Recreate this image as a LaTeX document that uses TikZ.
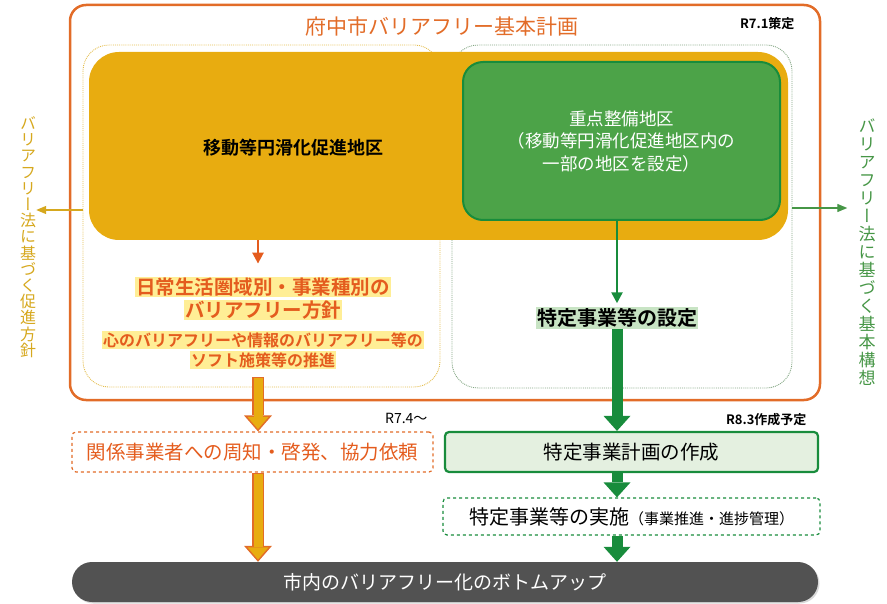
\documentclass[tikz,border=0pt]{standalone}
\usepackage{fontspec}
\setmainfont{Noto Sans CJK JP}[BoldFont={Noto Sans CJK JP Bold}]
\newfontfamily\tate{Noto Sans CJK JP}[Vertical=RotatedGlyphs]
\usepackage{tikz}
\usetikzlibrary{arrows.meta,shadows}
\definecolor{planorange}{RGB}{226,108,40}
\definecolor{promogold}{RGB}{232,172,16}
\definecolor{focusgreen}{RGB}{76,163,72}
\definecolor{darkgreen}{RGB}{24,140,60}
\definecolor{leafgreen}{RGB}{200,228,196}
\definecolor{palegreen}{RGB}{228,240,224}
\definecolor{policyred}{RGB}{228,92,30}
\definecolor{hiliteyellow}{RGB}{255,238,150}
\definecolor{dotgold}{RGB}{228,190,80}
\definecolor{dotgreen}{RGB}{130,165,130}
\definecolor{sidegold}{RGB}{214,168,30}
\definecolor{sidegreen}{RGB}{70,150,70}
\definecolor{bargray}{RGB}{82,82,82}
\newcommand{\sz}[2]{\fontsize{#1pt}{#2pt}\selectfont}
\newcommand{\blockarrow}[2]{%
	\draw[planorange,line width=12pt,-{Triangle[width=28pt,length=16pt,line width=0pt]}] #1 -- #2;
	\draw[promogold,line width=9pt,shorten <=1.5pt,shorten >=2.3pt,-{Triangle[width=21pt,length=12.2pt,line width=0pt]}] #1 -- #2;}

\begin{document}
\begin{tikzpicture}[x=1pt,y=-1pt,
	planframe/.style={draw=planorange,line width=2.5pt,rounded corners=16pt},
	zoneL/.style={draw=dotgold,densely dotted,line width=0.9pt,rounded corners=26pt},
	zoneR/.style={draw=dotgreen,densely dotted,line width=0.9pt,rounded corners=26pt},
	hilite/.style={fill=hiliteyellow,inner sep=1pt,text=policyred},
	flowbox/.style={minimum height=40pt,inner sep=0pt,rounded corners=4pt},
	thin arrow/.style={line width=2.5pt,-{Triangle[width=11pt,length=11pt]}},
	fat arrow/.style={darkgreen,line width=11pt,-{Triangle[width=27pt,length=15pt,line width=0pt]}},
	side arrow/.style={line width=1.3pt,-{Triangle[width=8pt,length=10pt]}},
	sidelabel/.style={align=center,inner sep=0pt}]
	\useasboundingbox (0,0) rectangle (887,604);
	% outer frame
	\node[planframe,minimum width=750pt,minimum height=395pt] (plan) at (445,202.5) {};
	\node[text=planorange,font=\sz{21}{24}] (title) at (442,27) {府中市バリアフリー基本計画};
	\node[font=\bfseries\sz{13}{15},anchor=east] (date1) at (798,24) {R7.1策定};
	% dotted zones
	\draw[zoneL] (83,45) rectangle (440,387);
	\draw[zoneR] (452,45) rectangle (792,388);
	% districts
	\node[fill=promogold,rounded corners=30pt,minimum width=699pt,minimum height=188pt] (promo) at (438.5,146) {};
	\node[font=\bfseries\sz{18}{22}] (promotxt) at (293,148) {移動等円滑化促進地区};
	\node[fill=focusgreen,draw=darkgreen,line width=2pt,rounded corners=20pt,minimum width=317pt,minimum height=158pt,
		text=white,align=center,font=\sz{17.5}{22.5}] (focus) at (621.5,141) {重点整備地区\\（移動等円滑化促進地区内の\\一部の地区を設定）};
	% left column
	\coordinate (lcol) at (258,0);
	\node[hilite,font=\bfseries\sz{19.5}{22}] (pol1) at (263,287) {日常生活圏域別・事業種別の};
	\node[hilite,font=\bfseries\sz{19.5}{22}] (pol2) at (263,310) {バリアフリー方針};
	\node[hilite,font=\bfseries\sz{16}{18}] (soft1) at (263,340) {心のバリアフリーや情報のバリアフリー等の};
	\node[hilite,font=\bfseries\sz{16}{18}] (soft2) at (263,360) {ソフト施策等の推進};
	\draw[thin arrow,policyred,shorten >=13pt] (promo.south -| lcol) -- (pol1.north -| lcol);
	\node[flowbox,draw=planorange,dashed,line width=1.2pt,minimum width=361pt,text=policyred,font=\sz{19.5}{22}] (notice) at (252.5,452) {関係事業者への周知・啓発、協力依頼};
	\node[font=\sz{14}{16},anchor=east] (date2) at (431,418) {R7.4～};
	% right column
	\node[fill=leafgreen,inner sep=1pt,font=\bfseries\sz{20}{22}] (spec) at (617,318) {特定事業等の設定};
	\draw[thin arrow,darkgreen,shorten >=4pt] (focus.south -| spec) -- (spec.north);
	\node[flowbox,draw=darkgreen,fill=palegreen,line width=2.2pt,minimum width=373pt,font=\sz{19.5}{22}] (make) at (631.5,452) {特定事業計画の作成};
	\node[font=\bfseries\sz{13}{15},anchor=east] (date3) at (810,420) {R8.3作成予定};
	\node[flowbox,draw=darkgreen,dashed,line width=1.2pt,minimum width=377pt,minimum height=37pt] (impl) at (631.5,516.5) {\sz{20}{22}特定事業等の実施\sz{15}{17}（事業推進・進捗管理）};
	% bottom bar
	\node[fill=bargray,rounded corners=20pt,minimum width=746pt,minimum height=40pt,text=white,font=\sz{19}{22},
		drop shadow={opacity=0.3,shadow xshift=1.5pt,shadow yshift=-1.5pt}] (bottom) at (445,582) {市内のバリアフリー化のボトムアップ};
	% flows
	\blockarrow{([yshift=-8pt]soft2.south -| lcol)}{(notice.north -| lcol)}
	\blockarrow{(notice.south -| lcol)}{(bottom.north -| lcol)}
	\draw[fat arrow] (spec.south) -- (make.north -| spec);
	\draw[fat arrow] (make.south -| spec) -- (impl.north -| spec);
	\draw[fat arrow] (impl.south -| spec) -- (bottom.north -| spec);
	% side labels
	\coordinate (ldot) at (83,210);
	\coordinate (rdot) at (792,208);
	\node[sidelabel,text=sidegold,font=\tate\sz{16}{16.2}] (lside) at (28,237) {バ\\リ\\ア\\フ\\リ\\ー\\法\\に\\基\\づ\\く\\促\\進\\方\\針};
	\node[sidelabel,text=sidegreen,font=\tate\sz{17}{18}] (rside) at (867,252) {バ\\リ\\ア\\フ\\リ\\ー\\法\\に\\基\\づ\\く\\基\\本\\構\\想};
	\draw[side arrow,sidegold] (ldot) -- (lside.east |- ldot);
	\draw[side arrow,sidegreen,shorten >=11pt] (rdot) -- (rside.west |- rdot);
\end{tikzpicture}
\end{document}
